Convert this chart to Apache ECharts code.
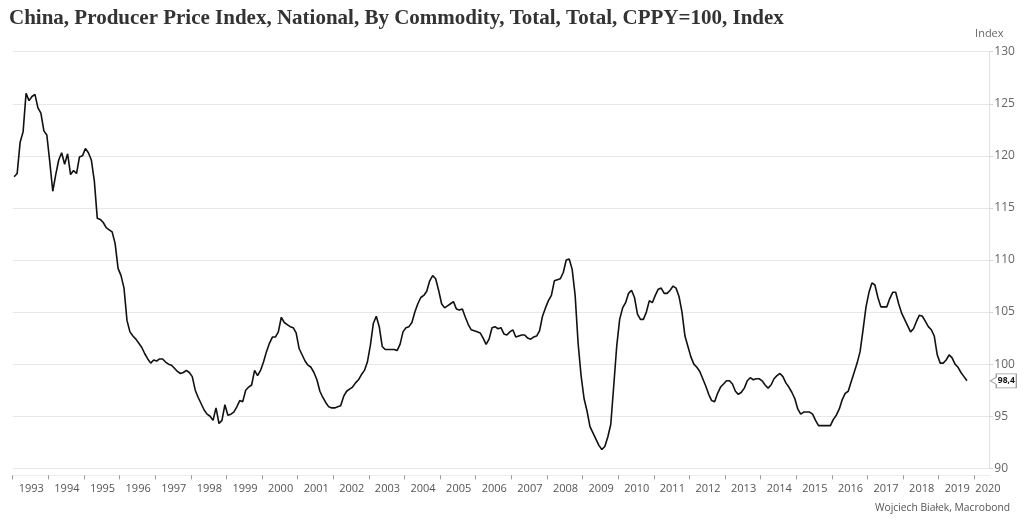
<!DOCTYPE html>
<html>
<head>
<meta charset="utf-8">
<script src="https://cdn.jsdelivr.net/npm/echarts/dist/echarts.min.js"></script>
<style>
html,body{margin:0;padding:0;background:#fff;}
#chart{width:1024px;height:524px;}
</style>
</head>
<body>
<div id="chart"></div>
<script>
// ---- DATA ----
const titleText = 'China, Producer Price Index, National, By Commodity, Total, Total, CPPY=100, Index';
const sourceText = 'Wojciech Białek, Macrobond';
const unitName = 'Index';
const startYear = 1993;   // first observation: January 1993, monthly
// Monthly PPI (same period previous year = 100), Jan 1993 .. Oct 2019
const ppiValues = [
  118.0, 118.3, 121.3, 122.3, 126.0, 125.3, 125.7, 125.9, 124.6, 124.1, 122.4, 122.0, // 1993
  119.4, 116.6, 118.2, 119.6, 120.3, 119.2, 120.2, 118.2, 118.6, 118.3, 119.9, 120.0, // 1994
  120.7, 120.3, 119.6, 117.6, 114.0, 113.9, 113.6, 113.1, 112.9, 112.7, 111.6, 109.2, // 1995
  108.5, 107.3, 104.2, 103.1, 102.7, 102.4, 102.0, 101.6, 101.0, 100.5, 100.1, 100.4, // 1996
  100.3, 100.5, 100.5, 100.2, 100.0, 99.9, 99.6, 99.3, 99.1, 99.2, 99.4, 99.2,         // 1997
  98.8, 97.5, 96.8, 96.2, 95.6, 95.2, 95.0, 94.6, 95.8, 94.3, 94.6, 96.1,               // 1998
  95.1, 95.2, 95.4, 95.9, 96.5, 96.4, 97.5, 97.8, 98.0, 99.4, 98.9, 99.4,               // 1999
  100.2, 101.2, 102.0, 102.6, 102.6, 103.1, 104.5, 104.0, 103.8, 103.6, 103.5, 103.0, // 2000
  101.5, 100.9, 100.3, 99.9, 99.7, 99.2, 98.5, 97.4, 96.8, 96.3, 95.9, 95.8,           // 2001
  95.8, 95.9, 96.0, 96.9, 97.4, 97.6, 97.8, 98.2, 98.5, 99.0, 99.4, 100.2,             // 2002
  101.8, 103.9, 104.6, 103.6, 101.7, 101.4, 101.4, 101.4, 101.4, 101.3, 101.9, 103.1, // 2003
  103.5, 103.6, 104.0, 105.0, 105.8, 106.4, 106.6, 107.0, 108.0, 108.5, 108.2, 107.1, // 2004
  105.8, 105.4, 105.6, 105.8, 106.0, 105.3, 105.2, 105.3, 104.5, 103.8, 103.3, 103.2, // 2005
  103.1, 103.0, 102.5, 101.9, 102.4, 103.5, 103.6, 103.4, 103.5, 102.9, 102.8, 103.1, // 2006
  103.3, 102.6, 102.7, 102.8, 102.8, 102.5, 102.4, 102.6, 102.7, 103.2, 104.6, 105.4, // 2007
  106.1, 106.6, 108.0, 108.1, 108.2, 108.8, 110.0, 110.1, 109.1, 106.6, 102.0, 98.9,  // 2008
  96.7, 95.5, 94.0, 93.4, 92.8, 92.2, 91.8, 92.1, 93.0, 94.2, 97.9, 101.7,             // 2009
  104.3, 105.4, 105.9, 106.8, 107.1, 106.4, 104.8, 104.3, 104.3, 105.0, 106.1, 105.9, // 2010
  106.6, 107.2, 107.3, 106.8, 106.8, 107.1, 107.5, 107.3, 106.5, 105.0, 102.7, 101.7, // 2011
  100.7, 100.0, 99.7, 99.3, 98.6, 97.9, 97.1, 96.5, 96.4, 97.2, 97.8, 98.1,            // 2012
  98.4, 98.4, 98.1, 97.4, 97.1, 97.3, 97.7, 98.4, 98.7, 98.5, 98.6, 98.6,              // 2013
  98.4, 98.0, 97.7, 98.0, 98.6, 98.9, 99.1, 98.8, 98.2, 97.8, 97.3, 96.7,              // 2014
  95.7, 95.2, 95.4, 95.4, 95.4, 95.2, 94.6, 94.1, 94.1, 94.1, 94.1, 94.1,              // 2015
  94.7, 95.1, 95.7, 96.6, 97.2, 97.4, 98.3, 99.2, 100.1, 101.2, 103.3, 105.5,          // 2016
  106.9, 107.8, 107.6, 106.4, 105.5, 105.5, 105.5, 106.3, 106.9, 106.9, 105.8, 104.9, // 2017
  104.3, 103.7, 103.1, 103.4, 104.1, 104.7, 104.6, 104.1, 103.6, 103.3, 102.7, 100.9, // 2018
  100.1, 100.1, 100.4, 100.9, 100.6, 100.0, 99.7, 99.2, 98.8, 98.4                    // 2019
];
const yearTicks = [1993,1994,1995,1996,1997,1998,1999,2000,2001,2002,2003,2004,2005,2006,
                   2007,2008,2009,2010,2011,2012,2013,2014,2015,2016,2017,2018,2019,2020];
const yTickValues = [90, 95, 100, 105, 110, 115, 120, 125, 130];

// ---- BUILD ----
const seriesData = ppiValues.map((v, i) => [startYear + (i + 0.5) / 12, v]);
const xMin = yearTicks[0];
const xMax = 2020.42;
const lastValue = ppiValues[ppiValues.length - 1];
const FONT = "'Open Sans', 'Liberation Sans', sans-serif";

const chart = echarts.init(document.getElementById('chart'), null, {renderer: 'canvas'});
chart.setOption({
  animation: false,
  backgroundColor: '#ffffff',
  title: [
    {
      text: titleText, left: 4, top: 3,
      textStyle: {fontFamily: "'Liberation Serif', serif", fontWeight: 'bold', fontSize: 21, color: '#333333'}
    },
    {
      text: sourceText, right: 9, bottom: 6,
      textStyle: {fontFamily: FONT, fontWeight: 'normal', fontSize: 10.3, color: '#555555'}
    }
  ],
  grid: {left: 12.7, right: 34.7, top: 51.7, bottom: 55.7, containLabel: false},
  xAxis: {
    type: 'value', min: xMin, max: xMax, offset: 7,
    axisLine: {show: true, lineStyle: {color: '#eeeeee', width: 1}},
    axisTick: {show: true, length: 4, customValues: yearTicks, lineStyle: {color: '#999999'}},
    axisLabel: {
      customValues: yearTicks, align: 'left', margin: 8,
      color: '#555555', fontSize: 11, fontFamily: FONT,
      formatter: v => (v === yearTicks[yearTicks.length - 1] ? '{b|' + v + '}' : '{a|' + v + '}'),
      rich: {
        a: {padding: [0, 0, 0, 6], color: '#555555', fontSize: 11, fontFamily: FONT},
        b: {padding: [0, 0, 0, 1], color: '#555555', fontSize: 11, fontFamily: FONT}
      }
    },
    splitLine: {show: false}
  },
  yAxis: {
    type: 'value', position: 'right', min: yTickValues[0], max: yTickValues[yTickValues.length - 1], interval: 5,
    name: unitName, nameLocation: 'end', nameGap: 12,
    nameTextStyle: {color: '#666666', fontSize: 11, fontFamily: FONT, align: 'center'},
    axisLine: {show: true, lineStyle: {color: '#e2e2e2'}},
    axisTick: {show: true, length: 4, lineStyle: {color: '#d6d6d6'}},
    axisLabel: {color: '#666666', fontSize: 12, fontFamily: FONT, margin: 5},
    splitLine: {show: true, lineStyle: {color: '#e8e8e8', width: 1}}
  },
  series: [{
    type: 'line', data: seriesData, showSymbol: false, symbol: 'none',
    lineStyle: {color: '#111111', width: 1.6}, clip: false,
    markPoint: {
      silent: true,
      symbol: 'path://M0,7L6,3.5L6,0L26,0L26,14L6,14L6,10.5Z',
      symbolSize: [26, 14], symbolOffset: [14, 0], symbolKeepAspect: false,
      itemStyle: {color: '#ffffff', borderColor: '#9a9a9a', borderWidth: 1},
      label: {
        show: true, position: 'inside', offset: [3, 0],
        color: '#111111', fontSize: 8.5, fontWeight: 'bold', fontFamily: FONT,
        formatter: () => lastValue.toFixed(1).replace('.', ',')
      },
      data: [{coord: [xMax, lastValue]}]
    }
  }]
});
</script>
</body>
</html>
